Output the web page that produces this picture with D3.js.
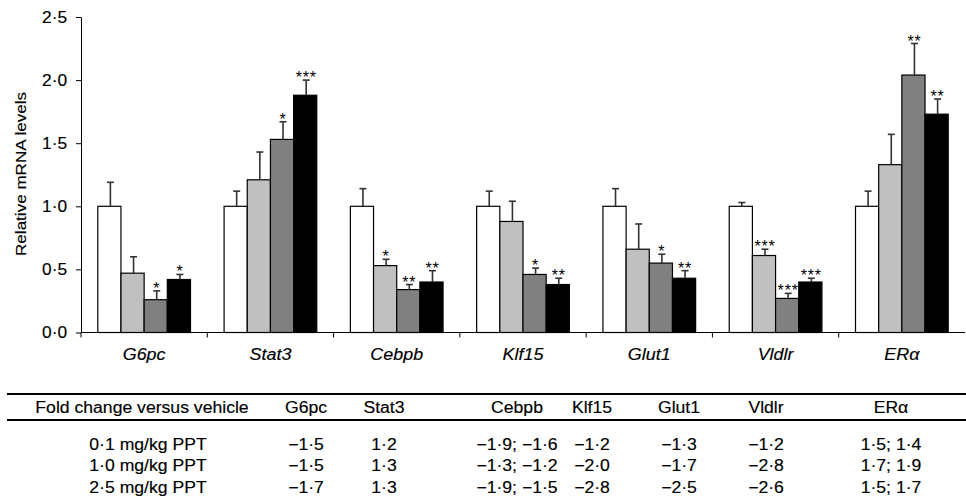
<!DOCTYPE html>
<html>
<head>
<meta charset="utf-8">
<script src="https://cdn.jsdelivr.net/npm/d3@7"></script>
<style>
  html, body { margin: 0; padding: 0; background: #fff; }
  svg { display: block; font-family: "Liberation Sans", Arial, Helvetica, sans-serif; }
  text { fill: #000; stroke: #000; stroke-width: 0.15px; }
</style>
</head>
<body>
<div id="chart"></div>
<script>
// gene names on the x axis
const categories = ["G6pc", "Stat3", "Cebpb", "Klf15", "Glut1", "Vldlr", "ERα"];
const seriesNames = ["Vehicle", "0·1 mg/kg PPT", "1·0 mg/kg PPT", "2·5 mg/kg PPT"];

// relative mRNA levels (mean) and error (upper SEM) per group
const vehicleMean = [1.00, 1.00, 1.00, 1.00, 1.00, 1.00, 1.00];
const vehicleErr  = [0.19, 0.12, 0.14, 0.12, 0.14, 0.03, 0.12];
const ppt01Mean   = [0.47, 1.21, 0.53, 0.88, 0.66, 0.61, 1.33];
const ppt01Err    = [0.13, 0.22, 0.05, 0.16, 0.20, 0.05, 0.24];
const ppt10Mean   = [0.26, 1.53, 0.34, 0.46, 0.55, 0.27, 2.04];
const ppt10Err    = [0.07, 0.14, 0.04, 0.05, 0.07, 0.04, 0.25];
const ppt25Mean   = [0.42, 1.88, 0.40, 0.38, 0.43, 0.40, 1.73];
const ppt25Err    = [0.04, 0.12, 0.09, 0.05, 0.06, 0.03, 0.12];

// significance marks
const vehicleStars = ["", "", "", "", "", "", ""];
const ppt01Stars   = ["", "", "*", "", "", "***", ""];
const ppt10Stars   = ["*", "*", "**", "*", "*", "***", "**"];
const ppt25Stars   = ["*", "***", "**", "**", "**", "***", "**"];

const yTicks = [0, 0.5, 1.0, 1.5, 2.0, 2.5];

// fold change table
const tableHeader = ["Fold change versus vehicle", "G6pc", "Stat3", "Cebpb", "Klf15", "Glut1", "Vldlr", "ERα"];
const tableRow01 = ["0·1 mg/kg PPT", "−1·5", "1·2", "−1·9; −1·6", "−1·2", "−1·3", "−1·2", "1·5; 1·4"];
const tableRow10 = ["1·0 mg/kg PPT", "−1·5", "1·3", "−1·3; −1·2", "−2·0", "−1·7", "−2·8", "1·7; 1·9"];
const tableRow25 = ["2·5 mg/kg PPT", "−1·7", "1·3", "−1·9; −1·5", "−2·8", "−2·5", "−2·6", "1·5; 1·7"];

const barColors = ["#ffffff", "#c0c0c0", "#808080", "#000000"];

const width = 966, height = 497;
const stretchK = 1.1; // type in the figure is set a bit wider than Arial

const svg = d3.select("#chart").append("svg")
  .attr("width", width)
  .attr("height", height);

// widen text along its baseline
function stretch(sel, k) {
  sel.each(function () {
    const w = this.getComputedTextLength();
    d3.select(this).attr("textLength", w * k).attr("lengthAdjust", "spacingAndGlyphs");
  });
}

const plot = { left: 81, right: 965, top: 17, bottom: 332.5 };

const x = d3.scaleBand()
  .domain(categories)
  .range([plot.left, plot.right])
  .paddingInner(0)
  .paddingOuter(0);

const groupPad = x.bandwidth() * 0.133;
const xs = d3.scaleBand()
  .domain(seriesNames)
  .range([groupPad, x.bandwidth() - groupPad]);

const y = d3.scaleLinear().domain([0, 2.5]).range([plot.bottom, plot.top]);

const allMeans = [vehicleMean, ppt01Mean, ppt10Mean, ppt25Mean];
const allErrs = [vehicleErr, ppt01Err, ppt10Err, ppt25Err];
const allStars = [vehicleStars, ppt01Stars, ppt10Stars, ppt25Stars];

const bars = [];
categories.forEach((c, i) => {
  seriesNames.forEach((s, j) => {
    bars.push({ cat: c, series: s, idx: j, value: allMeans[j][i], err: allErrs[j][i], stars: allStars[j][i] });
  });
});

const fmt = v => d3.format(".1f")(v).replace(".", "·");

// y axis
const yAxis = svg.append("g")
  .attr("transform", `translate(${plot.left},0)`)
  .call(d3.axisLeft(y).tickValues(yTicks).tickFormat(fmt).tickSize(5).tickPadding(9).tickSizeOuter(0));
yAxis.select(".domain").attr("stroke", "#000").attr("stroke-width", 1);
yAxis.selectAll(".tick line").attr("stroke", "#000");
yAxis.selectAll(".tick text")
  .attr("font-size", 16)
  .attr("fill", "#000")
  .attr("font-family", "Liberation Sans, Arial, sans-serif")
  .call(stretch, 1.08);

// y title
const yTitle = svg.append("text")
  .attr("transform", `translate(26,174) rotate(-90)`)
  .attr("text-anchor", "middle")
  .attr("font-size", 15.5)
  .text("Relative mRNA levels");
yTitle.call(stretch, stretchK);

// bars
const barG = svg.append("g");
barG.selectAll("rect")
  .data(bars)
  .join("rect")
  .attr("x", d => x(d.cat) + xs(d.series))
  .attr("y", d => y(d.value))
  .attr("width", xs.bandwidth())
  .attr("height", d => y(0) - y(d.value))
  .attr("fill", d => barColors[d.idx])
  .attr("stroke", "#000")
  .attr("stroke-width", 1.2);

// error bars (upper only)
const capW = 7;
const errG = svg.append("g").attr("stroke", "#333").attr("stroke-width", 1.6);
bars.forEach(d => {
  const cx = x(d.cat) + xs(d.series) + xs.bandwidth() / 2 + 1;
  const top = y(d.value + d.err);
  errG.append("line").attr("x1", cx).attr("x2", cx).attr("y1", y(d.value)).attr("y2", top);
  errG.append("line").attr("x1", cx - capW / 2).attr("x2", cx + capW / 2).attr("y1", top).attr("y2", top);
});

// stars
svg.append("g").selectAll("text")
  .data(bars.filter(d => d.stars))
  .join("text")
  .attr("x", d => x(d.cat) + xs(d.series) + xs.bandwidth() / 2 + 1)
  .attr("y", d => y(d.value + d.err) + 3)
  .attr("text-anchor", "middle")
  .attr("font-size", 16)
  .attr("letter-spacing", 0.8)
  .style("stroke-width", 0)
  .text(d => d.stars);

// x axis with ticks at group boundaries
const xAxis = svg.append("g");
xAxis.append("line")
  .attr("x1", plot.left).attr("x2", plot.right)
  .attr("y1", plot.bottom).attr("y2", plot.bottom)
  .attr("stroke", "#000").attr("stroke-width", 1);
xAxis.selectAll(".sep")
  .data(categories)
  .join("line")
  .attr("class", "sep")
  .attr("x1", d => x(d)).attr("x2", d => x(d))
  .attr("y1", plot.bottom).attr("y2", plot.bottom + 5)
  .attr("stroke", "#000");
const catLabels = xAxis.selectAll(".cat")
  .data(categories)
  .join("text")
  .attr("class", "cat")
  .attr("x", d => x(d) + x.bandwidth() / 2)
  .attr("y", 360)
  .attr("text-anchor", "middle")
  .attr("font-size", 16)
  .attr("font-style", "italic")
  .text(d => d);
catLabels.call(stretch, 1.12);

// fold change table
const colX = [142, 306, 384, 517, 592, 679, 766, 891];
const rowLabelX = 148;
const tbl = svg.append("g");
tbl.append("line").attr("x1", 7).attr("x2", width).attr("y1", 394).attr("y2", 394)
  .attr("stroke", "#000").attr("stroke-width", 2.2);
tbl.append("line").attr("x1", 7).attr("x2", width).attr("y1", 420).attr("y2", 420)
  .attr("stroke", "#000").attr("stroke-width", 2.2);

const headText = tbl.selectAll(".head")
  .data(tableHeader)
  .join("text")
  .attr("class", "head")
  .attr("x", (d, i) => colX[i])
  .attr("y", 413)
  .attr("text-anchor", "middle")
  .attr("font-size", 16)
  .text(d => d);
headText.call(stretch, stretchK);

const rows = [tableRow01, tableRow10, tableRow25];
rows.forEach((row, r) => {
  const t = tbl.selectAll(".row" + r)
    .data(row)
    .join("text")
    .attr("class", "row" + r)
    .attr("x", (d, i) => i === 0 ? rowLabelX : colX[i])
    .attr("y", 449.5 + r * 21.7)
    .attr("text-anchor", "middle")
    .attr("font-size", 16)
    .text(d => d);
  t.call(stretch, stretchK);
});
</script>
</body>
</html>
